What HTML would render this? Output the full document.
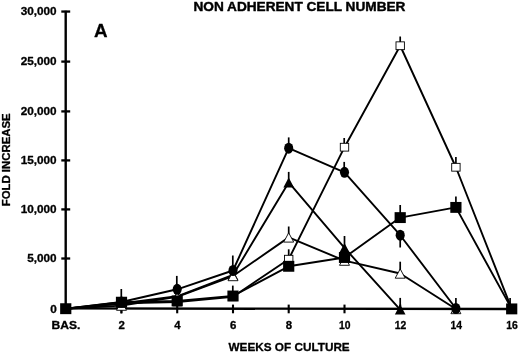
<!DOCTYPE html>
<html><head><meta charset="utf-8"><title>Non adherent cell number</title>
<style>
html,body{margin:0;padding:0;background:#fff;}
body{width:520px;height:354px;overflow:hidden;}
svg{display:block;filter:blur(0.4px);}
text{font-family:"Liberation Sans",Arial,Helvetica,sans-serif;font-weight:bold;fill:#000;stroke:#000;stroke-width:0.3px;stroke-linejoin:round;}
</style></head><body>
<svg width="520" height="354" viewBox="0 0 520 354">
<rect width="520" height="354" fill="#fff"/>
<line x1="65.7" y1="10.7" x2="65.7" y2="309.8" stroke="#000" stroke-width="2.4"/>
<line x1="64.5" y1="308.40000000000003" x2="517" y2="309.05" stroke="#000" stroke-width="2.4"/>
<line x1="61.3" y1="11.55" x2="70.2" y2="11.55" stroke="#000" stroke-width="2.3"/>
<text x="0" y="0" font-size="10.8" text-anchor="end" transform="translate(56.6 14.75) scale(1.09 1)">30,000</text>
<line x1="61.3" y1="61.60" x2="70.2" y2="61.60" stroke="#000" stroke-width="2.3"/>
<text x="0" y="0" font-size="10.8" text-anchor="end" transform="translate(56.6 65.20) scale(1.09 1)">25,000</text>
<line x1="61.3" y1="111.40" x2="70.2" y2="111.40" stroke="#000" stroke-width="2.3"/>
<text x="0" y="0" font-size="10.8" text-anchor="end" transform="translate(56.6 115.00) scale(1.09 1)">20,000</text>
<line x1="61.3" y1="160.40" x2="70.2" y2="160.40" stroke="#000" stroke-width="2.3"/>
<text x="0" y="0" font-size="10.8" text-anchor="end" transform="translate(56.6 164.15) scale(1.09 1)">15,000</text>
<line x1="61.3" y1="209.40" x2="70.2" y2="209.40" stroke="#000" stroke-width="2.3"/>
<text x="0" y="0" font-size="10.8" text-anchor="end" transform="translate(56.6 213.00) scale(1.09 1)">10,000</text>
<line x1="61.3" y1="258.50" x2="70.2" y2="258.50" stroke="#000" stroke-width="2.3"/>
<text x="0" y="0" font-size="10.8" text-anchor="end" transform="translate(56.6 262.10) scale(1.09 1)">5,000</text>
<text x="0" y="0" font-size="10.8" text-anchor="end" transform="translate(56.9 312.50) scale(1.09 1)">0</text>
<text x="0" y="0" font-size="10.8" text-anchor="middle" transform="translate(66.05 329.2) scale(1.12 1)">BAS.</text>
<line x1="121.50" y1="304.6" x2="121.50" y2="313.3" stroke="#000" stroke-width="2.1"/>
<text x="0" y="0" font-size="10.8" text-anchor="middle" transform="translate(121.80 329.2) scale(1.06 1)">2</text>
<line x1="177.20" y1="304.6" x2="177.20" y2="313.3" stroke="#000" stroke-width="2.1"/>
<text x="0" y="0" font-size="10.8" text-anchor="middle" transform="translate(177.50 329.2) scale(1.06 1)">4</text>
<line x1="233.00" y1="304.6" x2="233.00" y2="313.3" stroke="#000" stroke-width="2.1"/>
<text x="0" y="0" font-size="10.8" text-anchor="middle" transform="translate(233.30 329.2) scale(1.06 1)">6</text>
<line x1="288.70" y1="304.6" x2="288.70" y2="313.3" stroke="#000" stroke-width="2.1"/>
<text x="0" y="0" font-size="10.8" text-anchor="middle" transform="translate(289.00 329.2) scale(1.06 1)">8</text>
<line x1="344.50" y1="304.6" x2="344.50" y2="313.3" stroke="#000" stroke-width="2.1"/>
<text x="0" y="0" font-size="10.8" text-anchor="middle" transform="translate(344.80 329.2) scale(0.96 1)">10</text>
<line x1="400.20" y1="304.6" x2="400.20" y2="313.3" stroke="#000" stroke-width="2.1"/>
<text x="0" y="0" font-size="10.8" text-anchor="middle" transform="translate(400.50 329.2) scale(0.96 1)">12</text>
<line x1="455.90" y1="304.6" x2="455.90" y2="313.3" stroke="#000" stroke-width="2.1"/>
<text x="0" y="0" font-size="10.8" text-anchor="middle" transform="translate(456.20 329.2) scale(0.96 1)">14</text>
<line x1="511.70" y1="304.6" x2="511.70" y2="313.3" stroke="#000" stroke-width="2.1"/>
<text x="0" y="0" font-size="10.8" text-anchor="middle" transform="translate(512.00 329.2) scale(0.96 1)">16</text>
<text font-size="12.4" text-anchor="middle" style="stroke-width:0.4px" transform="translate(299.45 11.15) scale(1.1 1)">NON ADHERENT CELL NUMBER</text>
<text font-size="11.75" text-anchor="middle" transform="translate(289.1 351.3)">WEEKS OF CULTURE</text>
<text font-size="11.4" text-anchor="middle" transform="translate(10.4 159.8) rotate(-90)">FOLD INCREASE</text>
<text font-size="18.8" text-anchor="middle" transform="translate(100.8 37)">A</text>
<polyline points="65.75,308.70 121.50,303.50 177.20,296.30 233.00,275.00 288.70,182.40 344.50,247.90 400.20,309.60" fill="none" stroke="#000" stroke-width="1.9" stroke-linejoin="round"/>
<polyline points="65.75,308.70 121.50,305.60 177.20,296.80 233.00,276.00 288.70,237.40 344.50,260.60 400.20,273.50 455.90,309.00" fill="none" stroke="#000" stroke-width="1.9" stroke-linejoin="round"/>
<polyline points="65.75,308.70 121.50,303.40 177.20,302.00 233.00,296.80 288.70,259.20 344.50,147.20 400.20,45.75 455.90,167.25 511.70,308.90" fill="none" stroke="#000" stroke-width="1.9" stroke-linejoin="round"/>
<polyline points="65.75,308.70 121.50,302.00 177.20,289.30 233.00,270.50 288.70,148.20 344.50,172.30 400.20,235.20 455.90,308.50" fill="none" stroke="#000" stroke-width="1.9" stroke-linejoin="round"/>
<polyline points="65.75,308.70 121.50,302.20 177.20,300.90 233.00,296.00 288.70,266.30 344.50,257.50 400.20,217.60 455.90,207.40 511.70,308.90" fill="none" stroke="#000" stroke-width="1.9" stroke-linejoin="round"/>
<line x1="121.30" y1="289.00" x2="121.30" y2="313.40" stroke="#000" stroke-width="1.7"/>
<line x1="176.80" y1="275.90" x2="176.80" y2="289.00" stroke="#000" stroke-width="1.7"/>
<line x1="232.80" y1="255.50" x2="232.80" y2="270.00" stroke="#000" stroke-width="1.7"/>
<line x1="232.80" y1="285.60" x2="232.80" y2="296.00" stroke="#000" stroke-width="1.7"/>
<line x1="288.70" y1="137.40" x2="288.70" y2="148.00" stroke="#000" stroke-width="1.7"/>
<line x1="288.70" y1="171.90" x2="288.70" y2="182.00" stroke="#000" stroke-width="1.7"/>
<line x1="288.70" y1="226.50" x2="288.70" y2="237.00" stroke="#000" stroke-width="1.7"/>
<line x1="288.70" y1="249.30" x2="288.70" y2="259.00" stroke="#000" stroke-width="1.7"/>
<line x1="344.20" y1="138.00" x2="344.20" y2="147.00" stroke="#000" stroke-width="1.7"/>
<line x1="344.20" y1="161.90" x2="344.20" y2="172.00" stroke="#000" stroke-width="1.7"/>
<line x1="344.50" y1="236.00" x2="344.50" y2="249.00" stroke="#000" stroke-width="1.7"/>
<line x1="400.20" y1="36.50" x2="400.20" y2="45.00" stroke="#000" stroke-width="1.7"/>
<line x1="400.20" y1="205.00" x2="400.20" y2="217.00" stroke="#000" stroke-width="1.7"/>
<line x1="400.20" y1="235.00" x2="400.20" y2="247.50" stroke="#000" stroke-width="1.7"/>
<line x1="400.20" y1="261.70" x2="400.20" y2="273.00" stroke="#000" stroke-width="1.7"/>
<line x1="400.20" y1="297.90" x2="400.20" y2="309.00" stroke="#000" stroke-width="1.7"/>
<line x1="455.90" y1="157.00" x2="455.90" y2="167.00" stroke="#000" stroke-width="1.7"/>
<line x1="455.90" y1="196.60" x2="455.90" y2="207.00" stroke="#000" stroke-width="1.7"/>
<line x1="455.90" y1="297.90" x2="455.90" y2="308.00" stroke="#000" stroke-width="1.7"/>
<line x1="510.10" y1="297.90" x2="510.10" y2="308.00" stroke="#000" stroke-width="1.7"/>
<polygon points="121.50,298.50 116.20,308.50 126.80,308.50" fill="#000"/>
<polygon points="177.20,291.30 171.90,301.30 182.50,301.30" fill="#000"/>
<polygon points="233.00,270.00 227.70,280.00 238.30,280.00" fill="#000"/>
<polygon points="288.70,177.40 283.40,187.40 294.00,187.40" fill="#000"/>
<polygon points="344.50,242.90 339.20,252.90 349.80,252.90" fill="#000"/>
<polygon points="400.20,304.60 394.90,314.60 405.50,314.60" fill="#000"/>
<polygon points="121.50,301.00 116.50,310.30 126.50,310.30" fill="#fff" stroke="#000" stroke-width="0.9" stroke-linejoin="miter"/>
<polygon points="177.20,292.20 172.20,301.50 182.20,301.50" fill="#fff" stroke="#000" stroke-width="0.9" stroke-linejoin="miter"/>
<polygon points="233.00,271.40 228.00,280.70 238.00,280.70" fill="#fff" stroke="#000" stroke-width="0.9" stroke-linejoin="miter"/>
<polygon points="288.70,232.80 283.70,242.10 293.70,242.10" fill="#fff" stroke="#000" stroke-width="0.9" stroke-linejoin="miter"/>
<polygon points="344.50,256.00 339.50,265.30 349.50,265.30" fill="#fff" stroke="#000" stroke-width="0.9" stroke-linejoin="miter"/>
<polygon points="400.20,268.90 395.20,278.20 405.20,278.20" fill="#fff" stroke="#000" stroke-width="0.9" stroke-linejoin="miter"/>
<polygon points="455.90,304.40 450.90,313.70 460.90,313.70" fill="#fff" stroke="#000" stroke-width="0.9" stroke-linejoin="miter"/>
<rect x="117.30" y="299.50" width="8.4" height="7.8" fill="#fff" stroke="#000" stroke-width="0.9"/>
<rect x="173.00" y="298.10" width="8.4" height="7.8" fill="#fff" stroke="#000" stroke-width="0.9"/>
<rect x="228.80" y="292.90" width="8.4" height="7.8" fill="#fff" stroke="#000" stroke-width="0.9"/>
<rect x="284.50" y="255.30" width="8.4" height="7.8" fill="#fff" stroke="#000" stroke-width="0.9"/>
<rect x="340.30" y="143.30" width="8.4" height="7.8" fill="#fff" stroke="#000" stroke-width="0.9"/>
<rect x="396.00" y="41.85" width="8.4" height="7.8" fill="#fff" stroke="#000" stroke-width="0.9"/>
<rect x="451.70" y="163.35" width="8.4" height="7.8" fill="#fff" stroke="#000" stroke-width="0.9"/>
<rect x="507.50" y="305.00" width="8.4" height="7.8" fill="#fff" stroke="#000" stroke-width="0.9"/>
<ellipse cx="121.50" cy="302.00" rx="4.55" ry="5.5" fill="#000"/>
<ellipse cx="177.20" cy="289.30" rx="4.55" ry="5.5" fill="#000"/>
<ellipse cx="233.00" cy="270.50" rx="4.55" ry="5.5" fill="#000"/>
<ellipse cx="288.70" cy="148.20" rx="4.55" ry="5.5" fill="#000"/>
<ellipse cx="344.50" cy="172.30" rx="4.55" ry="5.5" fill="#000"/>
<ellipse cx="400.20" cy="235.20" rx="4.55" ry="5.5" fill="#000"/>
<ellipse cx="455.90" cy="308.50" rx="4.55" ry="5.5" fill="#000"/>
<rect x="60.15" y="303.25" width="11.2" height="10.9" fill="#000"/>
<rect x="115.90" y="296.75" width="11.2" height="10.9" fill="#000"/>
<rect x="171.60" y="295.45" width="11.2" height="10.9" fill="#000"/>
<rect x="227.40" y="290.55" width="11.2" height="10.9" fill="#000"/>
<rect x="283.10" y="260.85" width="11.2" height="10.9" fill="#000"/>
<rect x="338.90" y="252.05" width="11.2" height="10.9" fill="#000"/>
<rect x="394.60" y="212.15" width="11.2" height="10.9" fill="#000"/>
<rect x="450.30" y="201.95" width="11.2" height="10.9" fill="#000"/>
<rect x="506.10" y="303.45" width="11.2" height="10.9" fill="#000"/>
</svg></body></html>
